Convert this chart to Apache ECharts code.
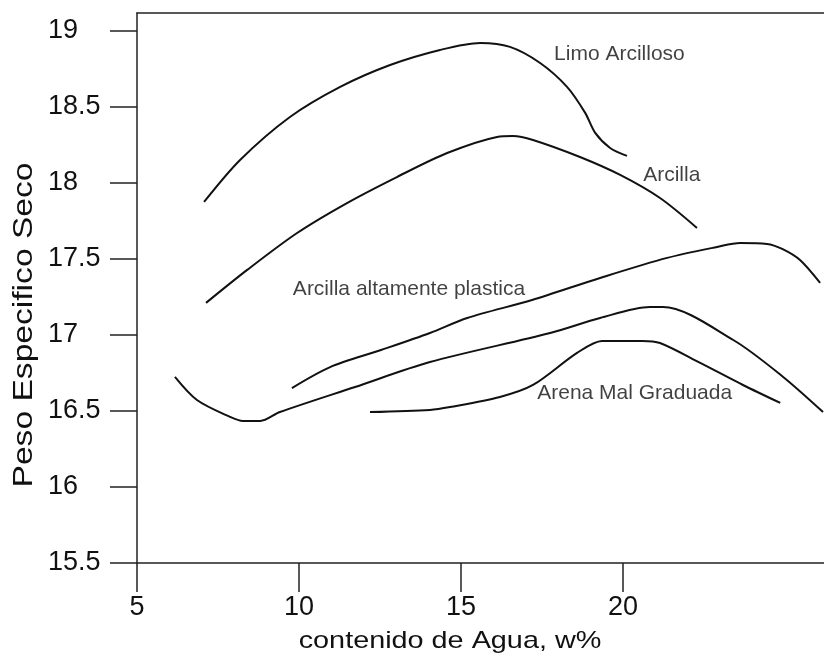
<!DOCTYPE html>
<html>
<head>
<meta charset="utf-8">
<script src="https://cdn.jsdelivr.net/npm/echarts@6/dist/echarts.min.js"></script>
<style>
html,body{margin:0;padding:0;background:#fff;}
#chart{width:824px;height:654px;}
</style>
</head>
<body>
<div id="chart"></div>
<script>
// x: contenido de agua (w%), y: peso especifico seco
const xTicks = [5, 10, 15, 20];
const yTicks = [15.5, 16, 16.5, 17, 17.5, 18, 18.5, 19];

const limoArcilloso = [
  [7.07, 17.875], [8.18, 18.151], [9.72, 18.434], [11.27, 18.632], [12.81, 18.776],
  [14.35, 18.875], [15.59, 18.921], [16.51, 18.895], [17.44, 18.789], [18.27, 18.632],
  [18.83, 18.461], [19.14, 18.329], [19.60, 18.230], [20.12, 18.178]
];
const arcilla = [
  [7.13, 17.211], [8.40, 17.428], [9.94, 17.671], [11.48, 17.868], [13.02, 18.039],
  [14.57, 18.197], [16.11, 18.303], [16.60, 18.309], [17.22, 18.283], [18.67, 18.171],
  [19.91, 18.053], [21.14, 17.901], [22.28, 17.704]
];
const arcillaPlastica = [
  [9.78, 16.651], [10.96, 16.789], [12.53, 16.901], [14.04, 17.013], [15.19, 17.112],
  [17.19, 17.230], [19.29, 17.375], [21.36, 17.507], [22.90, 17.579], [23.61, 17.605],
  [24.44, 17.599], [24.91, 17.566], [25.46, 17.493], [26.08, 17.342]
];
const curvaInferior = [
  [6.17, 16.724], [6.85, 16.572], [7.87, 16.461], [8.27, 16.434], [8.80, 16.434],
  [9.41, 16.493], [11.73, 16.658], [14.04, 16.822], [17.75, 17.013], [19.29, 17.112],
  [20.83, 17.184], [21.23, 17.184], [23.40, 16.967], [24.94, 16.724], [26.17, 16.493]
];
const arenaMalGraduada = [
  [12.19, 16.493], [14.04, 16.507], [14.66, 16.526], [16.20, 16.592], [17.22, 16.671],
  [18.58, 16.882], [19.35, 16.961], [20.59, 16.961], [21.14, 16.947], [22.38, 16.816],
  [23.70, 16.671], [24.85, 16.553]
];
const curveLabels = [
  ['Limo Arcilloso', 17.87, 18.849],
  ['Arcilla', 20.62, 18.053],
  ['Arcilla altamente plastica', 9.81, 17.303],
  ['Arena Mal Graduada', 17.35, 16.618]
];

const chart = echarts.init(document.getElementById('chart'));
const lineStyle = { color: '#111', width: 2 };
function curve(name, data) {
  return {
    name: name, type: 'line', data: data, smooth: 0.3, showSymbol: false,
    symbol: 'none', lineStyle: lineStyle, silent: true, animation: false
  };
}
const font = 'Liberation Sans, Arial, sans-serif';
const axisColor = '#222';
const X_MIN = 5, X_MAX = 26.2;

chart.setOption({
  animation: false,
  backgroundColor: '#fff',
  grid: { left: 137, top: 13, bottom: 91, right: 0 },
  xAxis: [
    {
      type: 'value', min: X_MIN, max: X_MAX, interval: 5, position: 'bottom',
      axisLine: { show: true, onZero: false, lineStyle: { color: axisColor, width: 1.5 } },
      axisTick: { show: true, inside: false, length: 29, customValues: xTicks, lineStyle: { color: axisColor, width: 1.5 } },
      axisLabel: { customValues: xTicks, margin: 31, fontSize: 27, color: '#111', fontFamily: font },
      splitLine: { show: false }
    },
    {
      type: 'value', min: X_MIN, max: X_MAX, position: 'top',
      axisLine: { show: true, onZero: false, lineStyle: { color: axisColor, width: 1.5 } },
      axisTick: { show: false }, axisLabel: { show: false }, splitLine: { show: false }
    }
  ],
  yAxis: {
    type: 'value', min: 15.5, max: 19.118, interval: 0.5,
    axisLine: { show: true, onZero: false, lineStyle: { color: axisColor, width: 1.5 } },
    axisTick: { show: true, inside: false, length: 27, customValues: yTicks, lineStyle: { color: axisColor, width: 1.5 } },
    axisLabel: {
      customValues: yTicks, margin: 89, align: 'left', fontSize: 27, color: '#111',
      fontFamily: font, padding: [0, 0, 10, 0]
    },
    splitLine: { show: false }
  },
  series: [
    curve('Limo Arcilloso', limoArcilloso),
    curve('Arcilla', arcilla),
    curve('Arcilla altamente plastica', arcillaPlastica),
    curve('Curva inferior', curvaInferior),
    curve('Arena Mal Graduada', arenaMalGraduada),
    {
      type: 'scatter', symbolSize: 0, silent: true,
      data: curveLabels.map(d => ({ value: [d[1], d[2]], name: d[0] })),
      label: {
        show: true, position: 'right', distance: 0, formatter: p => p.name,
        fontSize: 21, color: '#111', fontFamily: font
      }
    }
  ],
  graphic: [
    {
      type: 'text', x: 450, y: 641, scaleX: 1.2,
      style: { text: 'contenido de Agua, w%', fontSize: 24, fontFamily: font, fill: '#111', align: 'center', verticalAlign: 'middle' }
    },
    {
      type: 'text', x: 24, y: 325, rotation: Math.PI / 2, scaleX: 1.2,
      style: { text: 'Peso Especifico Seco', fontSize: 28, fontFamily: font, fill: '#111', align: 'center', verticalAlign: 'middle' }
    }
  ]
});
</script>
</body>
</html>
